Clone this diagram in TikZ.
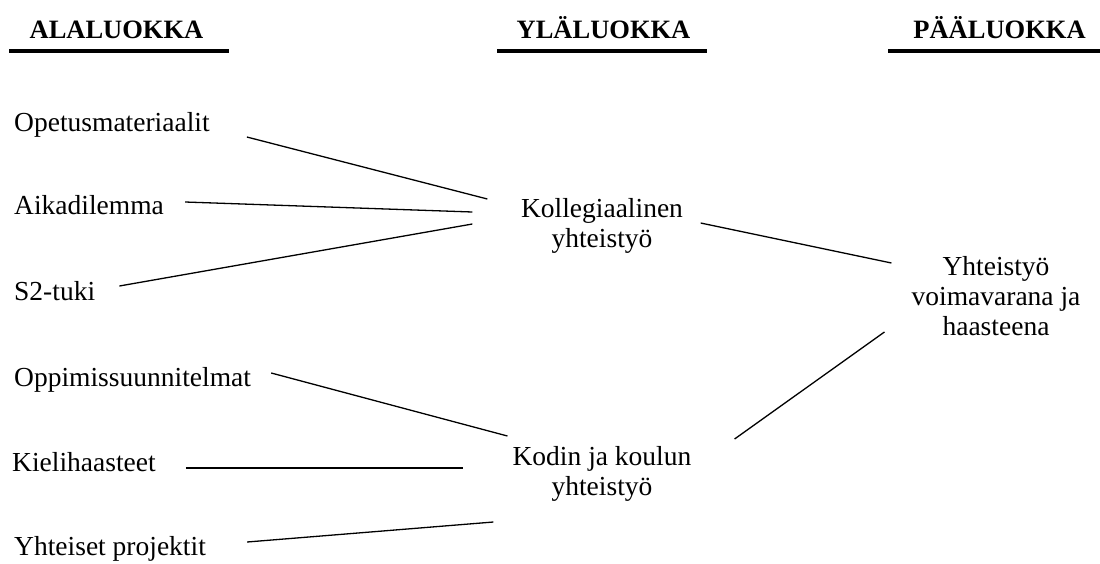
\documentclass[tikz,border=0pt]{standalone}
\usepackage{fontspec}
\setmainfont{Liberation Serif}
\usepackage{tikz}

\tikzset{
  header/.style={anchor=base, inner sep=0pt, font=\fontsize{26.5}{30}\selectfont\bfseries},
  headrule/.style={line width=4pt},
  item/.style={anchor=base west, inner sep=0pt, font=\fontsize{27.5}{30}\selectfont},
  theme/.style={align=center, inner sep=0pt, font=\fontsize{27.5}{30}\selectfont},
  link/.style={line width=1.3pt},
}

\begin{document}
\begin{tikzpicture}[x=1pt, y=-1pt]
\useasboundingbox (0,0) rectangle (1100,563);

% Column headers
\node[header] (ala) at (116.5,38) {ALALUOKKA};
\node[header] (yla) at (603.5,38) {YLÄLUOKKA};
\node[header] (paa) at (999.5,38) {PÄÄLUOKKA};
\draw[headrule] ([shift={(-20,13)}]ala.base west) -- ([shift={(25,13)}]ala.base east);
\draw[headrule] ([shift={(-19,13)}]yla.base west) -- ([shift={(16,13)}]yla.base east);
\draw[headrule] ([shift={(-25,13)}]paa.base west) -- ([shift={(20,13)}]paa.base east);

% Subcategories
\node[item] (opetus) at (14,131) {Opetusmateriaalit};
\node[item] (aika) at (14,214) {Aikadilemma};
\node[item] (s2) at (14,300) {S2-tuki};
\node[item] (oppimis) at (14,386) {Oppimissuunnitelmat};
\node[item] (kieli) at (12,471) {Kielihaasteet};
\node[item] (projektit) at (14,555) {Yhteiset projektit};

% Upper categories and main category
\node[theme] (koll) at (602,226) {Kollegiaalinen\\yhteistyö};
\node[theme] (kodin) at (602,474) {Kodin ja koulun\\yhteistyö};
\node[theme] (yht) at (996,296) {Yhteistyö\\voimavarana ja\\haasteena};

% Links to upper categories
\draw[link] ([shift={(37,6)}]opetus.base east) -- ([shift={(-33.5,-27)}]koll.west);
\draw[link] ([shift={(21,-12)}]aika.base east) -- ([shift={(-48.5,-14)}]koll.west);
\draw[link] ([shift={(24,-14)}]s2.base east) -- ([shift={(-48.5,-2)}]koll.west);
\draw[link] ([shift={(20,-13)}]oppimis.base east) -- ([shift={(-5,-38)}]kodin.west);
\draw[link] ([shift={(30,-3)}]kieli.base east) -- ([shift={(-49,-6)}]kodin.west);
\draw[link] ([shift={(41,-13)}]projektit.base east) -- ([shift={(-19,48)}]kodin.west);

% Links to main category
\draw[link] ([shift={(17.5,-3)}]koll.east) -- ([shift={(-20,-33)}]yht.west);
\draw[link] ([shift={(43,-35)}]kodin.east) -- ([shift={(-27,36)}]yht.west);
\end{tikzpicture}
\end{document}
